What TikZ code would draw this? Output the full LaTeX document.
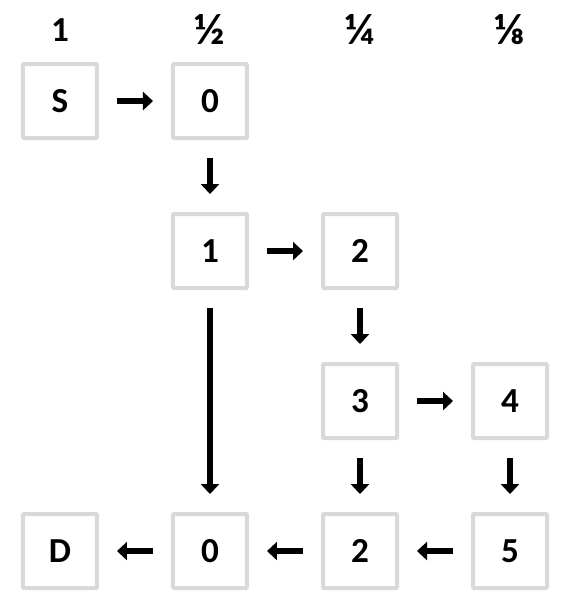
\documentclass[tikz,border=0pt]{standalone}
\usepackage{fontspec}
\setmainfont{Carlito}
\usepackage{xcolor}
\usetikzlibrary{arrows.meta}
\definecolor{boxGray}{RGB}{217,217,217}

\tikzset{
    cell/.style={draw=boxGray, line width=0.08cm, rounded corners=0.02cm,
        minimum size=1.48cm, inner sep=0pt, font=\fontsize{20}{22}\selectfont\bfseries},
    colhead/.style={font=\fontsize{20}{22}\selectfont\bfseries},
    frachead/.style={font=\fontsize{25}{27}\selectfont\bfseries},
    flow/.style={line width=0.13cm, -{Triangle[width=0.36cm,length=0.2cm]},
        shorten <=0.36cm, shorten >=0.36cm}
}

\begin{document}
\begin{tikzpicture}[x=3cm,y=3cm]
    \useasboundingbox (0,0) rectangle (3.8,4.0667);
    % column weights
    \node[colhead] (h1) at (0.4,3.867) {1};
    \node[frachead] (h2) at (1.4,3.867) {½};
    \node[frachead] (h3) at (2.4,3.867) {¼};
    \node[frachead] (h4) at (3.4,3.867) {⅛};
    % cells
    \node[cell] (s)  at (0.4,3.393) {S};
    \node[cell] (a0) at (1.4,3.393) {0};
    \node[cell] (a1) at (1.4,2.393) {1};
    \node[cell] (a2) at (2.4,2.393) {2};
    \node[cell] (a3) at (2.4,1.393) {3};
    \node[cell] (a4) at (3.4,1.393) {4};
    \node[cell] (d)  at (0.4,0.393) {D};
    \node[cell] (b0) at (1.4,0.393) {0};
    \node[cell] (b2) at (2.4,0.393) {2};
    \node[cell] (b5) at (3.4,0.393) {5};
    % path
    \draw[flow] (s) -- (a0);
    \draw[flow] (a0) -- (a1);
    \draw[flow] (a1) -- (a2);
    \draw[flow] (a2) -- (a3);
    \draw[flow] (a3) -- (a4);
    \draw[flow] (a1) -- (b0);
    \draw[flow] (a3) -- (b2);
    \draw[flow] (a4) -- (b5);
    \draw[flow] (b5) -- (b2);
    \draw[flow] (b2) -- (b0);
    \draw[flow] (b0) -- (d);
\end{tikzpicture}
\end{document}
